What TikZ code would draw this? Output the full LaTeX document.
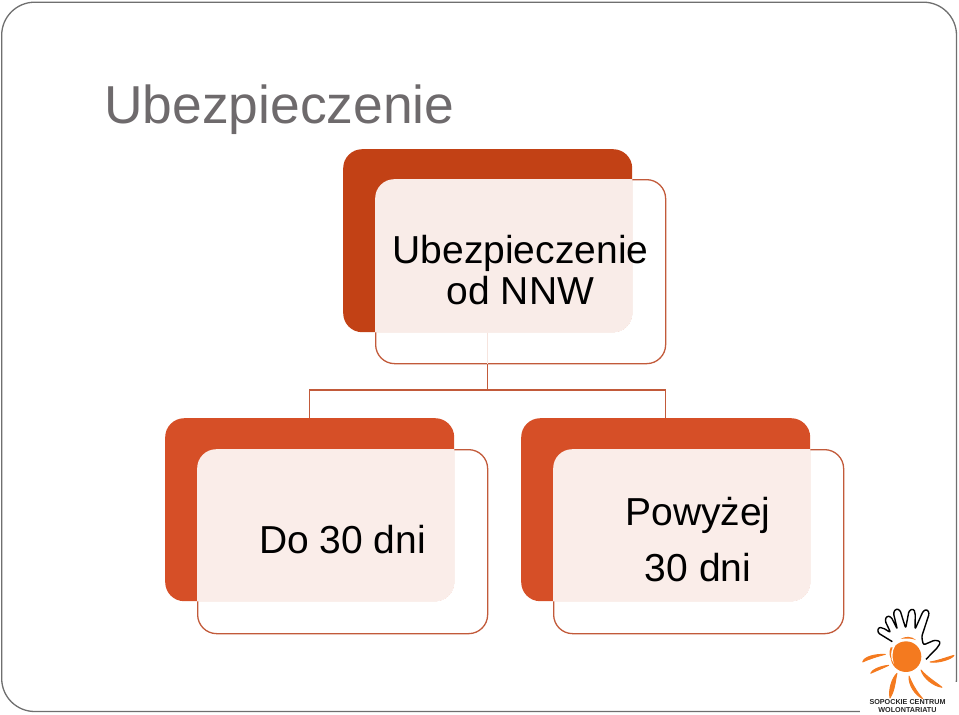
\documentclass[tikz,border=0pt]{standalone}
\usepackage{fontspec}
\setmainfont{Liberation Sans}
\definecolor{darktop}{HTML}{C24115}
\definecolor{darklow}{HTML}{D64F27}
\definecolor{edgeline}{HTML}{C25A3A}
\definecolor{paleline}{HTML}{F6E4DE}
\definecolor{titlegray}{HTML}{6E6A6C}
\definecolor{framegray}{HTML}{6F6F6F}
\definecolor{sun}{HTML}{F47A1F}
\tikzset{
  solidbox/.style={rectangle,rounded corners=19pt,minimum width=289pt,minimum height=183pt,inner sep=0pt,anchor=north west},
  outlinebox/.style={rectangle,rounded corners=19pt,minimum width=290pt,minimum height=184pt,inner sep=0pt,anchor=north west,draw=edgeline,line width=1.3pt,fill=white},
  veil/.style={rectangle,rounded corners=19pt,minimum width=290pt,minimum height=184pt,inner sep=0pt,anchor=north west,fill=white,fill opacity=0.9},
  link/.style={draw=edgeline,line width=1.1pt},
  boxtext/.style={font=\fontsize{39pt}{41pt}\selectfont,align=center,text=black,inner sep=0pt},
  ray/.style={fill=sun,draw=sun,line width=0.9pt,line join=round}
}
\begin{document}
\begin{tikzpicture}[x=1pt,y=-1pt]
\useasboundingbox (0,0) rectangle (959,715);
% slide frame
\draw[framegray,line width=1.3pt,rounded corners=33pt] (1.7,2.2) rectangle (956.5,711.5);
\fill[white] (860,682) rectangle (959,715);
% title
\node[anchor=base west,inner sep=0pt,text=titlegray,font=\fontsize{53.4pt}{58pt}\selectfont] (title) at (104,123) {Ubezpieczenie};
% outlines
\node[outlinebox] (ltop) at (375,179) {};
\node[outlinebox] (lleft) at (197,449) {};
\node[outlinebox] (lright) at (553,449) {};
% solid boxes
\node[solidbox,fill=darktop] (dtop) at (343,149) {};
\node[solidbox,fill=darklow] (dleft) at (165,418) {};
\node[solidbox,fill=darklow] (dright) at (521,418) {};
% connectors
\coordinate (jn) at (487.5,390);
\draw[paleline,line width=1.1pt] (dtop.south -| jn) -- (ltop.south -| jn);
\draw[link] (ltop.south -| jn) -- (jn);
\draw[link] (dleft.north) |- (jn) -| (dright.north);
% veils, only where an outline box lies over its solid box
\begin{scope}
  \clip[rounded corners=19pt] (dtop.north west) rectangle (dtop.south east);
  \node[veil] (vtop) at (375,179) {};
\end{scope}
\begin{scope}
  \clip[rounded corners=19pt] (dleft.north west) rectangle (dleft.south east);
  \node[veil] (vleft) at (197,449) {};
\end{scope}
\begin{scope}
  \clip[rounded corners=19pt] (dright.north west) rectangle (dright.south east);
  \node[veil] (vright) at (553,449) {};
\end{scope}
% texts
\node[boxtext] (ttop) at (520.5,270) {Ubezpieczenie\\od NNW};
\node[boxtext] (tleft) at (342.5,540) {Do 30 dni};
\node[boxtext,font=\fontsize{39pt}{56pt}\selectfont] (tright) at (698,540) {Powyżej\\30 dni};
% logo
\begin{scope}[shift={(840,590)},x=0.3333pt,y=-0.3333pt]
  \draw[black,line width=1.4pt,line join=round,fill=white,rounded corners=2.2pt]
    (157,155) -- (113,128) -- (115,112) -- (128,113) -- (152,128) -- (135,92) -- (140,78) -- (153,80) -- (172,118)
    -- (160,68) -- (168,56) -- (180,60) -- (197,115) -- (207,62) -- (220,56) -- (226,68) -- (225,118)
    -- (250,62) -- (262,58) -- (268,70) -- (245,140) -- (250,165) -- (285,150) -- (302,155) -- (295,170) -- (258,208);
  \fill[sun] (198,200) circle (46);
  \fill[white] (157,165) .. controls (148,185) and (150,205) .. (162,222) .. controls (156,205) and (155,185) .. (165,168) -- cycle;
  \fill[sun] (152,172) .. controls (146,188) and (148,200) .. (155,208) .. controls (152,195) and (153,185) .. (158,172) -- cycle;
  \fill[sun] (182,147) .. controls (195,138) and (215,138) .. (228,150) .. controls (215,145) and (197,144) .. (182,147) -- cycle;
  \path[ray] (68,216) .. controls (72,200) and (105,192) .. (136,193) .. controls (110,200) and (90,206) .. (68,216) -- cycle;
  \path[ray] (92,250) .. controls (95,240) and (120,228) .. (146,226) .. controls (125,236) and (110,242) .. (92,250) -- cycle;
  \path[ray] (150,324) .. controls (145,300) and (155,265) .. (171,250) .. controls (165,275) and (165,300) .. (150,324) -- cycle;
  \path[ray] (248,326) .. controls (225,315) and (205,285) .. (207,258) .. controls (218,285) and (230,305) .. (248,326) -- cycle;
  \path[ray] (306,292) .. controls (280,288) and (250,265) .. (243,240) .. controls (260,260) and (285,275) .. (306,292) -- cycle;
  \path[ray] (342,196) .. controls (335,208) and (295,220) .. (270,216) .. controls (295,212) and (320,202) .. (342,196) -- cycle;
\end{scope}
\node[font=\bfseries\fontsize{7.2pt}{8.2pt}\selectfont,align=center,inner sep=0pt,text=black!85] (logotext) at (907.5,706) {SOPOCKIE CENTRUM\\WOLONTARIATU};
\end{tikzpicture}
\end{document}
